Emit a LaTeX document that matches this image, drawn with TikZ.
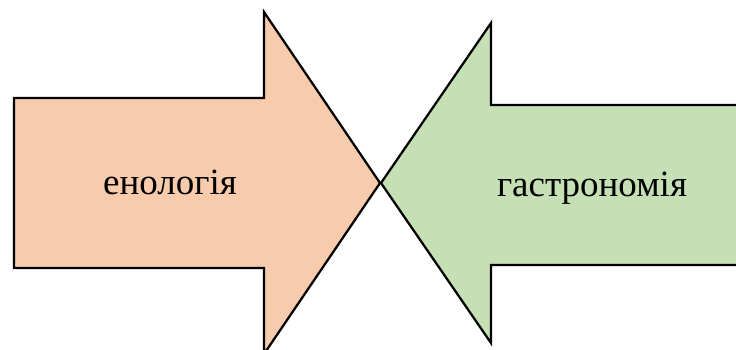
\documentclass[tikz,border=0pt]{standalone}
\usepackage{fontspec}
\setmainfont{Liberation Serif}
\definecolor{orangefill}{HTML}{F8CBAD}
\definecolor{greenfill}{HTML}{C5E0B4}
\begin{document}
\begin{tikzpicture}[x=1pt,y=-1pt,
  arrowshape/.style={draw=black,line width=2.25pt,line join=miter},
  label/.style={font=\fontsize{37}{41}\selectfont,anchor=base,inner sep=0pt}]
\useasboundingbox (0,0) rectangle (736,349);
\clip (0,0) rectangle (736,349);
\draw[arrowshape,fill=orangefill] (14,98) -- (264,98) -- (264,12) -- (380,183) -- (264,354) -- (264,268) -- (14,268) -- cycle;
\draw[arrowshape,fill=greenfill] (381,183) -- (491,23) -- (491,105) -- (750,105) -- (750,265) -- (491,265) -- (491,343) -- cycle;
\node[label] (eno) at (170,194) {енологія};
\node[label] (gastro) at (592,196) {гастрономія};
\end{tikzpicture}
\end{document}
